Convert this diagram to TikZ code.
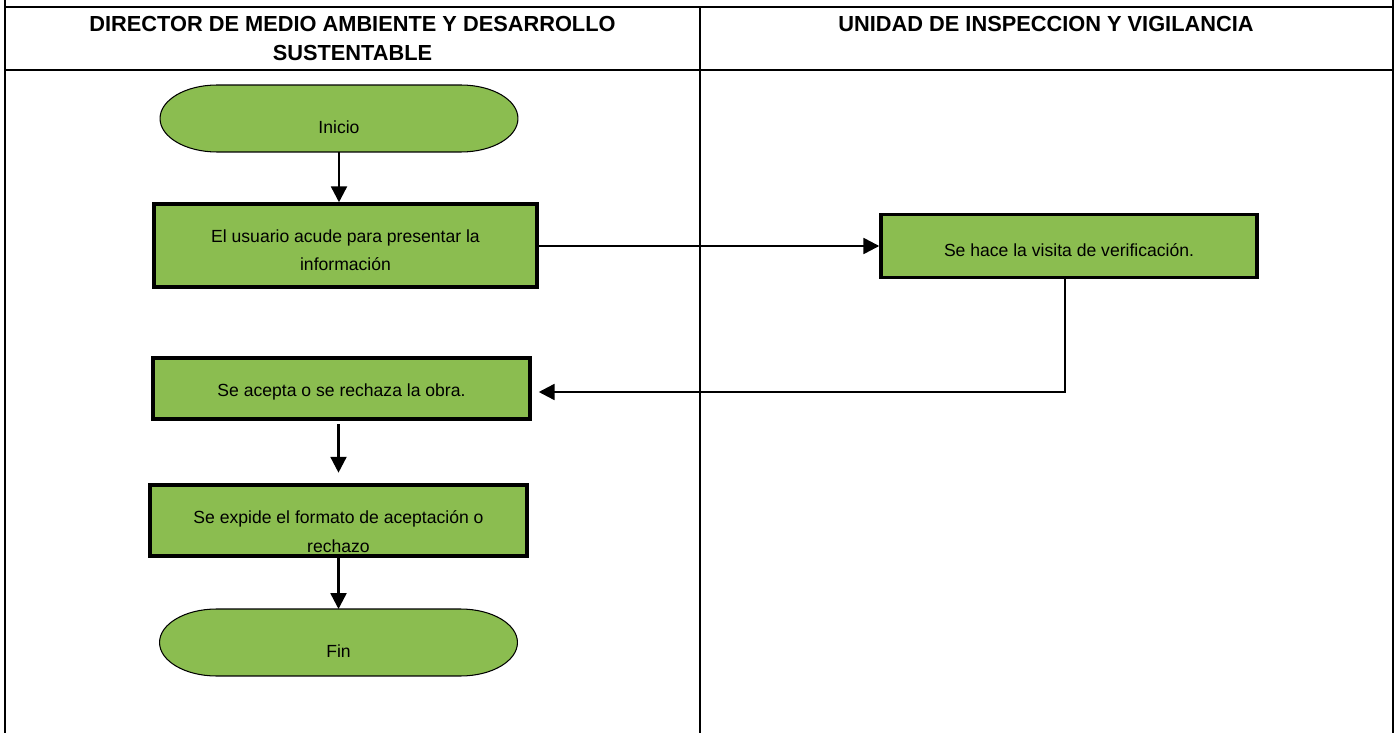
\documentclass[tikz,border=0pt]{standalone}
\usepackage{fontspec}
\setmainfont{Liberation Sans}
\usepackage{xcolor}
\usetikzlibrary{arrows.meta, backgrounds}
\definecolor{verde}{HTML}{8BBD50}

\begin{document}
\begin{tikzpicture}[x=0.02cm, y=-0.02cm,
  linea/.style={line width=1.4pt},
  titulo/.style={anchor=north, align=center, inner sep=2pt, font=\fontsize{12.4}{16.4}\selectfont\bfseries},
  caja/.style={draw, line width=2pt, fill=verde, align=center, inner sep=2pt, font=\fontsize{10}{16}\selectfont},
  term/.style={minimum width=7.16cm, minimum height=1.34cm, inner sep=0pt, outer sep=0pt, text height=17pt, font=\fontsize{10}{12}\selectfont},
  flecha/.style={line width=1.4pt, -{Triangle[length=9pt, width=9pt]}}]
\useasboundingbox (0,0) rectangle (1397,733);

% tabla
\draw[linea] (5,0) -- (5,733);
\draw[linea] (1393,0) -- (1393,733);
\foreach \y in {7,70}
  \draw[linea] (5,\y) -- (1393,\y);
\draw[linea] (700,7) -- (700,733);

\node[titulo] (tdir) at (352.5,12.5) {DIRECTOR DE MEDIO AMBIENTE Y DESARROLLO\\SUSTENTABLE};
\node[titulo] (tuni) at (1046,12.5) {UNIDAD DE INSPECCION Y VIGILANCIA};

% pasos
\node[term] (ini) at (339,118.5) {Inicio};
\node[caja, minimum width=7.66cm, minimum height=1.66cm, text height=29pt] (b1) at (345.5,245.5) {El usuario acude para presentar la\\información};
\node[caja, minimum width=7.52cm, minimum height=1.26cm, text height=12.5pt] (b2) at (1069,246) {Se hace la visita de verificación.};
\node[caja, minimum width=7.54cm, minimum height=1.22cm, text height=11.5pt] (b3) at (341.5,388.5) {Se acepta o se rechaza la obra.};
\node[caja, minimum width=7.54cm, minimum height=1.42cm, text height=36pt] (b4) at (338.5,520.5) {Se expide el formato de aceptación o\\rechazo};
\node[term] (fin) at (338.5,642.5) {Fin};

\begin{scope}[on background layer]
\foreach \t in {ini,fin}
  \filldraw[fill=verde, line width=0.6pt] ([xshift=1.14cm]\t.north west) -- ([xshift=-1.14cm]\t.north east)
    arc[start angle=90, end angle=-90, x radius=1.14cm, y radius=0.67cm]
    -- ([xshift=1.14cm]\t.south west)
    arc[start angle=270, end angle=90, x radius=1.14cm, y radius=0.67cm] -- cycle;
\end{scope}

% flechas
\coordinate (giro) at (1065,392);
\draw[flecha] (ini.south) -- (ini.south |- b1.north);
\draw[flecha] (b1.east |- b2.west) -- (b2.west);
\draw[flecha, shorten >=4pt] (b2.south -| giro) -- (giro) -- (b3.east |- giro);
\draw[flecha, shorten <=2pt, shorten >=6pt] (b4.north |- b3.south) -- (b4.north);
\draw[flecha] (fin.north |- b4.south) -- (fin.north);
\end{tikzpicture}
\end{document}
